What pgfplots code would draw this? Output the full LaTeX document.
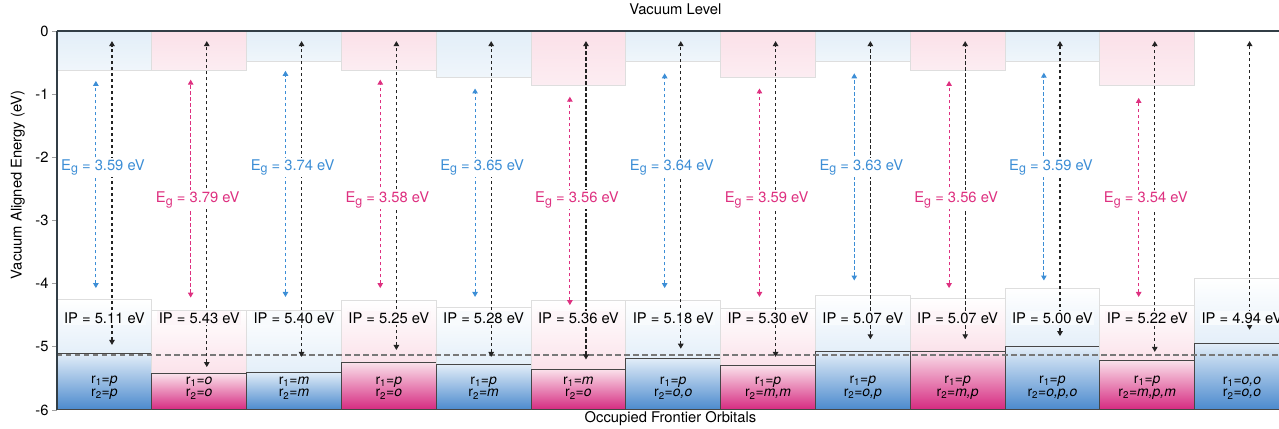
\documentclass[border=0pt]{standalone}
\usepackage{pgfplots}
\pgfplotsset{compat=1.18}
\usepackage{pgfplotstable}
\usepackage{fontspec}
\setmainfont{TeX Gyre Heros}
\usetikzlibrary{arrows.meta}

\definecolor{egbl}{RGB}{60,142,214}
\definecolor{egpk}{RGB}{222,48,128}
\definecolor{blbandtop}{RGB}{226,238,248}
\definecolor{blbandbot}{RGB}{240,246,251}
\definecolor{pkbandtop}{RGB}{251,224,232}
\definecolor{pkbandbot}{RGB}{252,237,242}
\definecolor{blboxbot}{RGB}{228,239,249}
\definecolor{pkboxbot}{RGB}{251,226,234}
\definecolor{blbartop}{RGB}{226,237,248}
\definecolor{blbarbot}{RGB}{74,137,205}
\definecolor{pkbartop}{RGB}{250,224,234}
\definecolor{pkbarbot}{RGB}{213,40,127}
\definecolor{blipfill}{RGB}{248,251,253}
\definecolor{pkipfill}{RGB}{253,245,248}
\definecolor{boxline}{RGB}{222,222,222}
\definecolor{barline}{RGB}{70,70,70}
\definecolor{axisgray}{RGB}{50,62,70}
\definecolor{tickgray}{RGB}{160,160,160}
\definecolor{arrgray}{RGB}{35,35,35}
\definecolor{refgray}{RGB}{120,120,120}

\newcommand\lab{\fontsize{14.8}{17}\selectfont}
\newcommand\rfont{\fontsize{14}{12.8}\selectfont}
\newcommand\Eglab[1]{E\raisebox{-0.35ex}{\fontsize{12.5}{12}\selectfont g} = #1 eV}
\newcommand\rlab[2]{r\textsubscript{1}=\textit{#1}\\r\textsubscript{2}=\textit{#2}}

% c = column, energies in eV below vacuum
\pgfplotstableread{
c ip band box atop abot etop ebot eg ra rb
0 5.11 0.62 4.25 0.16 4.97 0.79 4.07 3.59 p p
1 5.43 0.62 4.42 0.16 5.32 0.77 4.22 3.79 o o
2 5.40 0.48 4.42 0.16 5.16 0.63 4.21 3.74 m m
3 5.25 0.62 4.26 0.16 5.05 0.77 4.07 3.58 p o
4 5.28 0.74 4.37 0.16 5.16 0.91 4.21 3.65 p m
5 5.36 0.86 4.26 0.16 5.20 1.04 4.34 3.56 m o
6 5.18 0.48 4.26 0.16 5.03 0.67 4.07 3.64 p o,o
7 5.30 0.74 4.39 0.16 5.16 0.91 4.21 3.59 p m,m
8 5.07 0.48 4.19 0.16 4.88 0.67 3.95 3.63 p o,p
9 5.07 0.62 4.23 0.16 4.88 0.79 4.07 3.56 p m,p
10 5.00 0.48 4.07 0.16 4.83 0.66 3.95 3.59 p o,p,o
11 5.22 0.86 4.34 0.16 5.08 1.06 4.21 3.54 p m,p,m
12 4.94 0 3.91 0.16 4.73 nan nan nan o,o o,o
}\levels

\begin{document}
\begin{tikzpicture}
	\begin{axis}[
		at={(0,0)}, anchor=south west,
		scale only axis, width=1222bp, height=379bp,
		xmin=0, xmax=12.89, ymin=-6, ymax=0,
		axis on top,
		axis y line*=left, axis x line*=top,
		axis line style={-, draw=axisgray, line width=1.2bp},
		xtick=\empty,
		ytick={-6,-5,...,0},
		tick align=outside,
		major tick length=5bp,
		ytick style={draw=tickgray, line width=0.8bp},
		/pgf/number format/assume math mode=true,
		tick label style={font=\lab},
		title={Vacuum Level},
		title style={font=\lab, at={(0.506,1.042)}, anchor=center},
		xlabel={Occupied Frontier Orbitals},
		xlabel style={font=\lab, at={(0.502,-0.024)}, anchor=center},
		ylabel={Vacuum Aligned Energy (eV)},
		ylabel style={font=\lab, at={(-0.032,0.594)}, anchor=center},
		>={Triangle[length=5bp,width=5.5bp]},
	]

		% bands, IP boxes and occupied levels
		\pgfplotsinvokeforeach{0,...,12}{
			\pgfplotstablegetelem{#1}{ip}\of\levels \let\ip\pgfplotsretval
			\pgfplotstablegetelem{#1}{band}\of\levels \let\band\pgfplotsretval
			\pgfplotstablegetelem{#1}{box}\of\levels \let\bx\pgfplotsretval
			\pgfmathtruncatemacro\nx{#1+1}
			\ifodd#1\relax \def\cc{pk}\else \def\cc{bl}\fi
			\edef\temp{%
				\noexpand\draw[draw=boxline, line width=0.8bp, top color=\cc bandtop, bottom color=\cc bandbot] (axis cs:#1,0) rectangle (axis cs:\nx,-\band);
				\noexpand\draw[draw=boxline, line width=0.8bp, top color=white, bottom color=\cc boxbot] (axis cs:#1,-\bx) rectangle (axis cs:\nx,-\ip);
				\noexpand\draw[draw=barline, line width=1bp, top color=\cc bartop, bottom color=\cc barbot] (axis cs:#1,-\ip) rectangle (axis cs:\nx,-6);
			}\temp
		}

		\addplot[refgray, line width=1.2bp, dash pattern=on 5.5bp off 3.5bp] coordinates {(0,-5.13) (12.89,-5.13)};

		% gap arrows
		\addplot[egbl, line width=1bp, dash pattern=on 3.5bp off 2.5bp, <->,
			quiver={u=0, v=\thisrow{ebot}-\thisrow{etop}}]
			table[x expr={mod(\thisrow{c},2)==0 ? \thisrow{c}+0.41 : nan}, y expr=-\thisrow{ebot}] {\levels};
		\addplot[egpk, line width=1bp, dash pattern=on 3.5bp off 2.5bp, <->,
			quiver={u=0, v=\thisrow{ebot}-\thisrow{etop}}]
			table[x expr={mod(\thisrow{c},2)==1 ? \thisrow{c}+0.41 : nan}, y expr=-\thisrow{ebot}] {\levels};
		% vacuum to occupied level
		\addplot[arrgray, line width=1.1bp, dash pattern=on 3.5bp off 2.5bp, <->,
			quiver={u=0, v=\thisrow{abot}-\thisrow{atop}}]
			table[x expr=\thisrow{c}+0.58, y expr=-\thisrow{abot}] {\levels};

		% labels
		\pgfplotsinvokeforeach{0,...,12}{
			\pgfplotstablegetelem{#1}{ip}\of\levels \let\ip\pgfplotsretval
			\pgfplotstablegetelem{#1}{eg}\of\levels \let\eg\pgfplotsretval
			\pgfplotstablegetelem{#1}{ra}\of\levels \let\ra\pgfplotsretval
			\pgfplotstablegetelem{#1}{rb}\of\levels \let\rb\pgfplotsretval
			\ifodd#1\relax \def\cc{pk}\def\ey{-2.67}\else \def\cc{bl}\def\ey{-2.16}\fi
			\edef\temp{%
				\noexpand\node[font=\noexpand\lab, fill=\cc ipfill, inner sep=1.5bp] at (axis cs:#1.5,-4.54) {IP = \ip{} eV};
				\noexpand\node[font=\noexpand\rfont, align=center, inner sep=0pt] at (axis cs:#1.5,-5.65) {\noexpand\rlab{\ra}{\rb}};
			}\temp
			\ifnum#1<12
				\edef\temp{%
					\noexpand\node[font=\noexpand\lab, text=eg\cc, fill=white, inner sep=1.5bp] at (axis cs:#1.485,\ey) {\noexpand\Eglab{\eg}};
				}\temp
			\fi
		}
	\end{axis}
	\pgfresetboundingbox
	\path[use as bounding box] (-57bp,-19bp) rectangle (1222bp,410bp);
\end{tikzpicture}
\end{document}
